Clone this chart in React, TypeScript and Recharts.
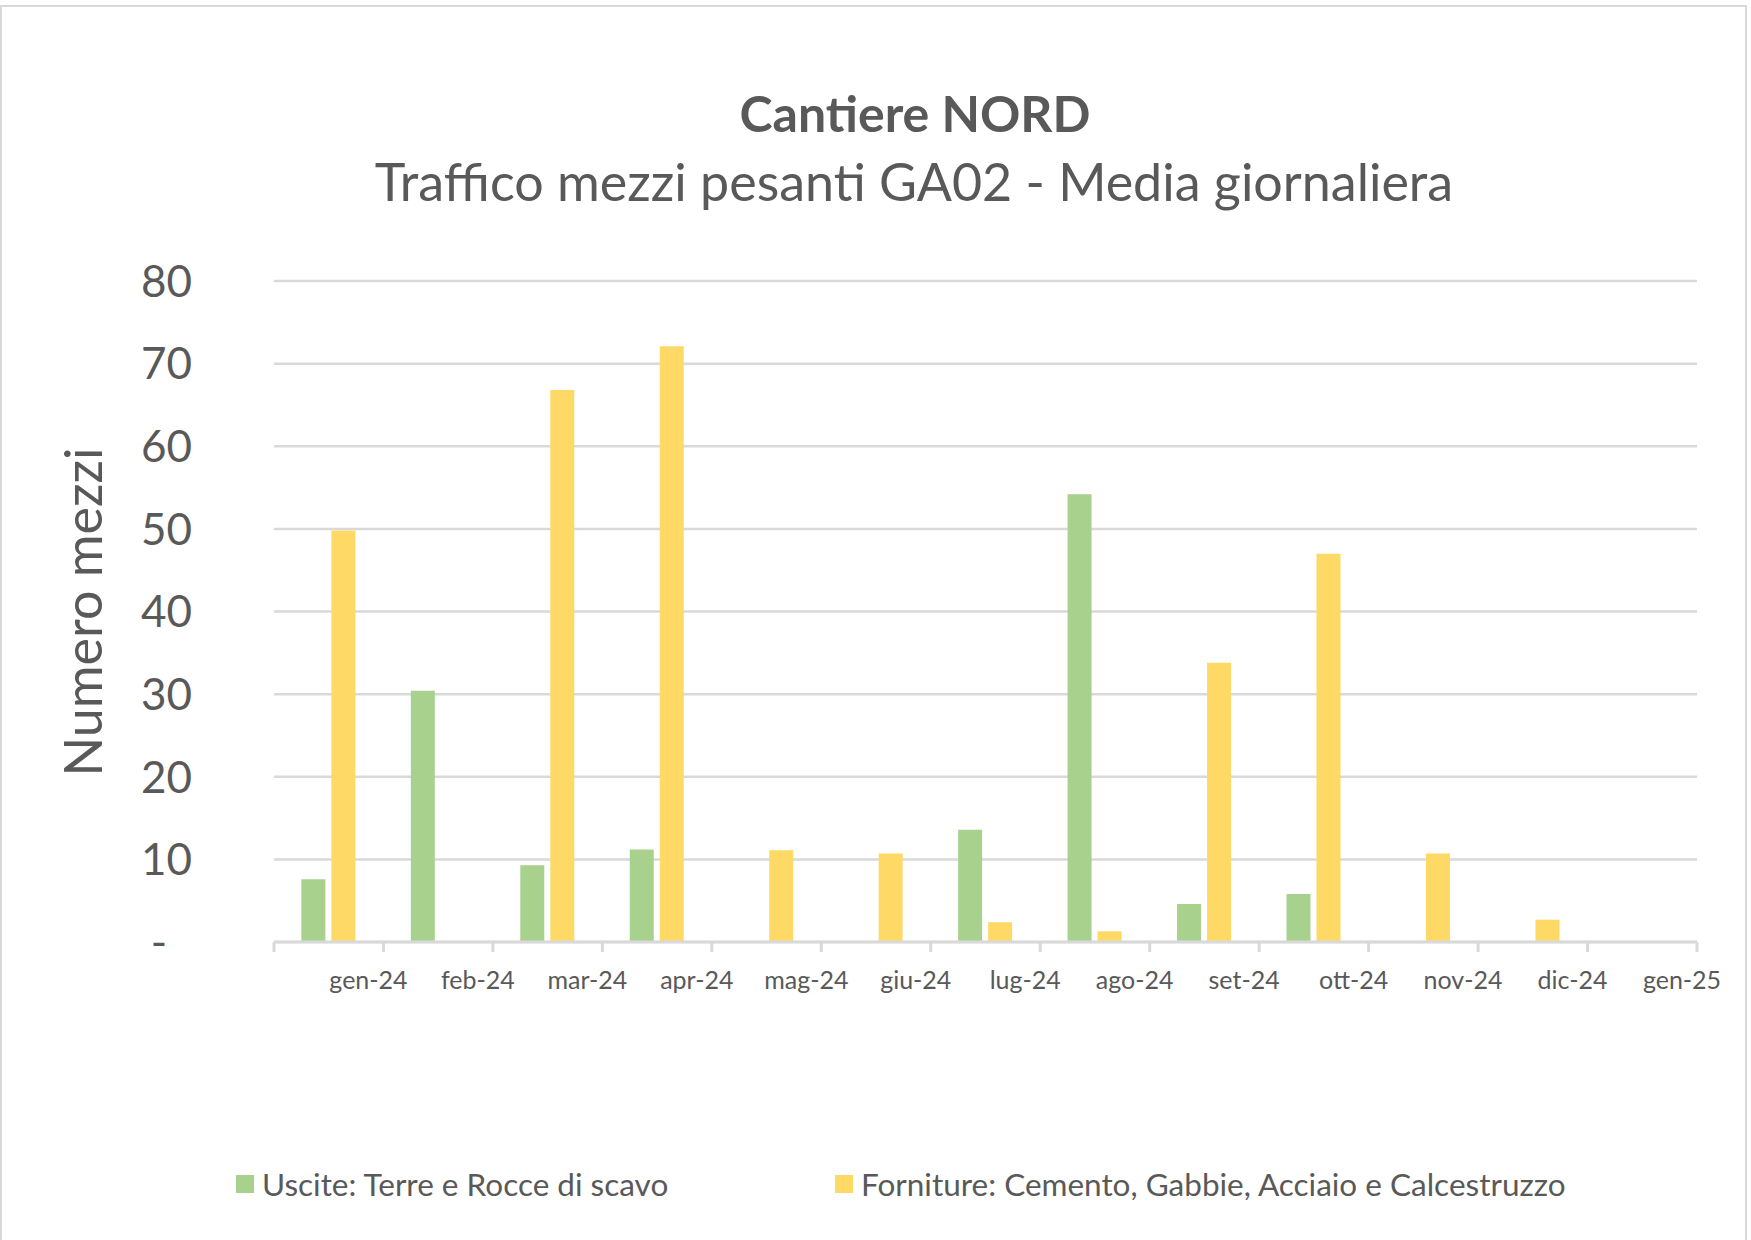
import { BarChart, Bar, XAxis, YAxis, CartesianGrid, Legend } from "recharts";

// categories (months) and the two series
const months = ["gen-24", "feb-24", "mar-24", "apr-24", "mag-24", "giu-24", "lug-24", "ago-24", "set-24", "ott-24", "nov-24", "dic-24", "gen-25"];
const uscite = [7.6, 30.4, 9.3, 11.2, null, null, 13.6, 54.2, 4.6, 5.8, null, null, null];
const forniture = [49.8, null, 66.8, 72.1, 11.1, 10.7, 2.4, 1.3, 33.8, 47.0, 10.7, 2.7, null];
const yTicks = [0, 10, 20, 30, 40, 50, 60, 70, 80];

const seriesKeys = ["uscite", "forniture"];
const seriesNames = ["Uscite: Terre e Rocce di scavo", "Forniture: Cemento, Gabbie, Acciaio e Calcestruzzo"];
const seriesColors = ["#a9d18e", "#ffd966"];

const title = "Cantiere NORD";
const subtitle = "Traffico mezzi pesanti GA02 - Media giornaliera";
const yTitle = "Numero mezzi";

const W = 1751;
const H = 1240;
const PLOT_LEFT = 274;
const PLOT_RIGHT = 1697;
const PLOT_TOP = 281;
const PLOT_BOTTOM = 942;
const BAND = (PLOT_RIGHT - PLOT_LEFT) / months.length;
const FONT = "Lato, 'Open Sans', sans-serif";
const GREY_TEXT = "#595959";
const GREY_LINE = "#d9d9d9";

const data = months.map((m, i) => ({ month: m, uscite: uscite[i], forniture: forniture[i] }));

function XTick(props: any) {
  const { x, y, payload, index } = props;
  const half = BAND / 2;
  return (
    <g>
      <line x1={x - half} x2={x - half} y1={y} y2={y + 10} stroke={GREY_LINE} strokeWidth={3} />
      {index === months.length - 1 && (
        <line x1={x + half} x2={x + half} y1={y} y2={y + 10} stroke={GREY_LINE} strokeWidth={3} />
      )}
      <text x={x + half - 15} y={y + 47} textAnchor="middle" fontSize={25} fill={GREY_TEXT} fontFamily={FONT}>
        {payload.value}
      </text>
    </g>
  );
}

function YTick(props: any) {
  const { x, y, payload } = props;
  const isZero = payload.value === 0;
  return (
    <text x={isZero ? x - 25 : x} y={y} dy="0.36em" textAnchor="end" fontSize={44} fill={GREY_TEXT} fontFamily={FONT}>
      {isZero ? "-" : payload.value}
    </text>
  );
}

function LegendContent(props: any) {
  const items = [...(props.payload || [])].sort(
    (a: any, b: any) => seriesKeys.indexOf(a.dataKey) - seriesKeys.indexOf(b.dataKey)
  );
  const lefts = [236, 835];
  return (
    <div style={{ position: "relative", height: 40, fontFamily: FONT }}>
      {items.map((it: any, i: number) => (
        <div
          key={it.value}
          style={{ position: "absolute", left: lefts[i], top: 0, height: 40, display: "flex", alignItems: "center" }}
        >
          <span style={{ width: 18, height: 18, background: it.color, display: "inline-block", marginRight: 8 }} />
          <span style={{ fontSize: 31.5, color: GREY_TEXT, whiteSpace: "nowrap" }}>{it.value}</span>
        </div>
      ))}
    </div>
  );
}

export default function App() {
  return (
    <div style={{ position: "absolute", left: 0, top: 0, width: W, height: H, background: "#fff", overflow: "hidden" }}>
      <div
        style={{
          position: "absolute",
          left: 0,
          top: 5,
          width: 1747,
          height: H + 20,
          border: `2px solid ${GREY_LINE}`,
          boxSizing: "border-box",
        }}
      />
      <div style={{ position: "absolute", left: 0, top: 0 }}>
        <BarChart
          width={W}
          height={H}
          data={data}
          margin={{ top: PLOT_TOP, right: W - PLOT_RIGHT, bottom: H - PLOT_BOTTOM - 60, left: 0 }}
          barCategoryGap="25%"
          barGap={6}
        >
          <CartesianGrid vertical={false} stroke={GREY_LINE} strokeWidth={2.5} />
          <XAxis
            dataKey="month"
            height={60}
            axisLine={{ stroke: GREY_LINE, strokeWidth: 3 }}
            tickLine={false}
            tickSize={0}
            tickMargin={0}
            interval={0}
            tick={<XTick />}
          />
          <YAxis
            width={PLOT_LEFT}
            domain={[0, 80]}
            ticks={yTicks}
            axisLine={false}
            tickLine={false}
            tickSize={0}
            tickMargin={82}
            tick={<YTick />}
          />
          <Legend
            verticalAlign="middle"
            align="center"
            layout="horizontal"
            wrapperStyle={{ position: "absolute", left: 0, top: 1164, width: W }}
            content={<LegendContent />}
          />
          <Bar dataKey="uscite" name={seriesNames[0]} fill={seriesColors[0]} isAnimationActive={false} />
          <Bar dataKey="forniture" name={seriesNames[1]} fill={seriesColors[1]} isAnimationActive={false} />
        </BarChart>
      </div>
      <svg width={W} height={H} style={{ position: "absolute", left: 0, top: 0, pointerEvents: "none" }}>
        <text x={915} y={132} textAnchor="middle" fontSize={50} fontWeight={700} fill={GREY_TEXT} fontFamily={FONT}>
          {title}
        </text>
        <text x={914} y={201} textAnchor="middle" fontSize={52} fill={GREY_TEXT} fontFamily={FONT}>
          {subtitle}
        </text>
        <text
          transform="translate(102, 612) rotate(-90)"
          textAnchor="middle"
          fontSize={52}
          fill={GREY_TEXT}
          fontFamily={FONT}
        >
          {yTitle}
        </text>
      </svg>
    </div>
  );
}
